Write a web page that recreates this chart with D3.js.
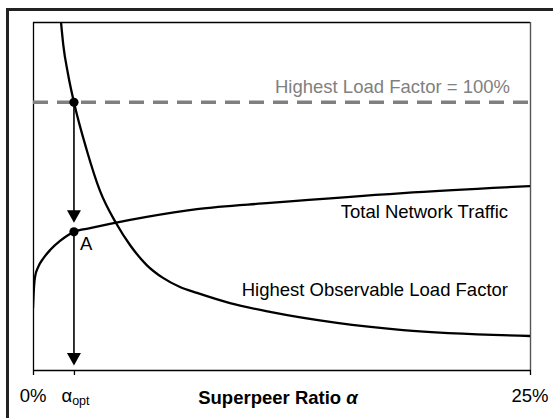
<!DOCTYPE html>
<html>
<head>
<meta charset="utf-8">
<script src="https://cdn.jsdelivr.net/npm/d3@7"></script>
<style>
  html, body { margin: 0; padding: 0; background: #fff; }
  svg { display: block; font-family: "Liberation Sans", Arial, sans-serif; }
</style>
</head>
<body>
<svg id="chart" width="553" height="418"></svg>
<script>
// ---- data (x in % superpeer ratio, y in % load / relative traffic) ----
const loadX = [1.408, 1.524, 1.761, 2.06, 2.701, 3.37, 4.175, 4.879, 5.719, 6.539, 7.394, 8.249, 9.909, 11.922, 15.292, 18.612, 25];
const loadY = [130, 121.4, 110.6, 100, 82.2, 66.9, 54.9, 46.7, 39.2, 34.4, 31.0, 28.8, 25.0, 21.7, 17.6, 14.9, 12.7];
const trafficX = [0, 0.05, 0.10, 0.27, 0.52, 0.86, 1.36, 2.06, 2.87, 3.87, 5.72, 8.25, 11.92, 18.61, 25];
const trafficY = [23.2, 31.0, 34.7, 38.6, 41.7, 44.8, 48.2, 51.6, 53.0, 54.6, 57.2, 60.1, 62.4, 66.1, 68.7];
const alphaOpt = 2.06;
const maxLoad = 100;
const pointA = [2.06, 51.6];
const xTickValues = [0, alphaOpt, 25];
const xTickLabels = ["0%", "αopt", "25%"];
const labelMaxLoad = "Highest Load Factor = 100%";
const labelTraffic = "Total Network Traffic";
const labelLoad = "Highest Observable Load Factor";
const labelA = "A";
const axisTitle = "Superpeer Ratio ";
const axisSymbol = "α";

(function () {
const svg = d3.select("#chart");
const pLeft = 33, pRight = 530, pTop = 22, pBottom = 370;
const fs = 18.5;
const x = d3.scaleLinear().domain([0, 25]).range([pLeft, pRight]);
const y = d3.scaleLinear().domain([0, 130]).range([pBottom, pTop]);

// outer frame (clipped by the viewport on right and bottom)
svg.append("rect").attr("x", 7.5).attr("y", 9.5).attr("width", 600).attr("height", 500)
  .attr("fill", "none").attr("stroke", "#222").attr("stroke-width", 3);

// plot frame
svg.append("line").attr("x1", pLeft).attr("x2", pRight).attr("y1", pTop + 0.5).attr("y2", pTop + 0.5)
  .attr("stroke", "#000").attr("stroke-width", 1.3);
svg.append("line").attr("x1", pRight + 0.5).attr("x2", pRight + 0.5).attr("y1", pTop).attr("y2", pBottom)
  .attr("stroke", "#555").attr("stroke-width", 1.4);
svg.append("line").attr("x1", pLeft + 0.5).attr("x2", pLeft + 0.5).attr("y1", pTop).attr("y2", pBottom)
  .attr("stroke", "#000").attr("stroke-width", 1.3);

// x axis with ticks
const xAxis = d3.axisBottom(x).tickValues(xTickValues).tickFormat(() => "").tickSize(5).tickSizeOuter(0);
const gx = svg.append("g").attr("transform", `translate(0,${pBottom})`).call(xAxis);
gx.select(".domain").attr("stroke", "#000").attr("stroke-width", 1.3);
gx.selectAll(".tick line").attr("stroke", "#000").attr("stroke-width", 1.3);

// tick labels
svg.append("text").attr("x", x(xTickValues[0])).attr("y", 402).attr("text-anchor", "middle")
  .attr("font-size", fs).text(xTickLabels[0]);
svg.append("text").attr("x", x(xTickValues[2])).attr("y", 402).attr("text-anchor", "middle")
  .attr("font-size", fs).text(xTickLabels[2]);
const tOpt = svg.append("text").attr("x", x(xTickValues[1]) - 12.5).attr("y", 402).attr("font-size", fs);
tOpt.append("tspan").text(xTickLabels[1].slice(0, 1));
tOpt.append("tspan").attr("font-size", 12.5).attr("dy", 3).text(xTickLabels[1].slice(1));

// axis title
const tt = svg.append("text").attr("x", 278).attr("y", 404).attr("text-anchor", "middle")
  .attr("font-size", fs).attr("font-weight", "bold");
tt.append("tspan").text(axisTitle);
tt.append("tspan").attr("font-style", "italic").text(axisSymbol);

// clip
svg.append("clipPath").attr("id", "plotclip").append("rect")
  .attr("x", pLeft).attr("y", pTop).attr("width", pRight - pLeft).attr("height", pBottom - pTop);

// max load dashed line
svg.append("line").attr("x1", x(0)).attr("x2", x(25)).attr("y1", y(maxLoad)).attr("y2", y(maxLoad))
  .attr("stroke", "#808080").attr("stroke-width", 3.5).attr("stroke-dasharray", "15,9");
svg.append("text").attr("x", 510).attr("y", 93).attr("text-anchor", "end")
  .attr("font-size", fs).attr("fill", "#808080").text(labelMaxLoad);

const line = d3.line().x(d => x(d[0])).y(d => y(d[1])).curve(d3.curveMonotoneX);
const loadData = loadX.map((v, i) => [v, loadY[i]]);
const trafficData = trafficX.map((v, i) => [v, trafficY[i]]);

const gc = svg.append("g").attr("clip-path", "url(#plotclip)");
gc.append("path").datum(loadData).attr("d", line).attr("fill", "none")
  .attr("stroke", "#000").attr("stroke-width", 2.3);
gc.append("path").datum(trafficData).attr("d", line).attr("fill", "none")
  .attr("stroke", "#000").attr("stroke-width", 2.3);

// arrows
function arrow(x0, y0, y1) {
  svg.append("line").attr("x1", x0).attr("x2", x0).attr("y1", y0).attr("y2", y1 - 10)
    .attr("stroke", "#000").attr("stroke-width", 1.6);
  svg.append("path").attr("d", `M${x0 - 7},${y1 - 12.5} L${x0 + 7},${y1 - 12.5} L${x0},${y1} Z`)
    .attr("fill", "#000");
}
const xo = x(alphaOpt);
arrow(xo, y(maxLoad), y(pointA[1]) - 9);
arrow(xo, y(pointA[1]), pBottom - 4.5);

// dots
svg.append("circle").attr("cx", xo).attr("cy", y(maxLoad)).attr("r", 4.6).attr("fill", "#000");
svg.append("circle").attr("cx", x(pointA[0])).attr("cy", y(pointA[1])).attr("r", 4.6).attr("fill", "#000");
svg.append("text").attr("x", 80).attr("y", 250).attr("font-size", fs).text(labelA);

// curve labels
svg.append("text").attr("x", 508).attr("y", 218).attr("text-anchor", "end")
  .attr("font-size", fs).text(labelTraffic);
svg.append("text").attr("x", 508).attr("y", 296).attr("text-anchor", "end")
  .attr("font-size", fs).text(labelLoad);
})();
</script>
</body>
</html>
